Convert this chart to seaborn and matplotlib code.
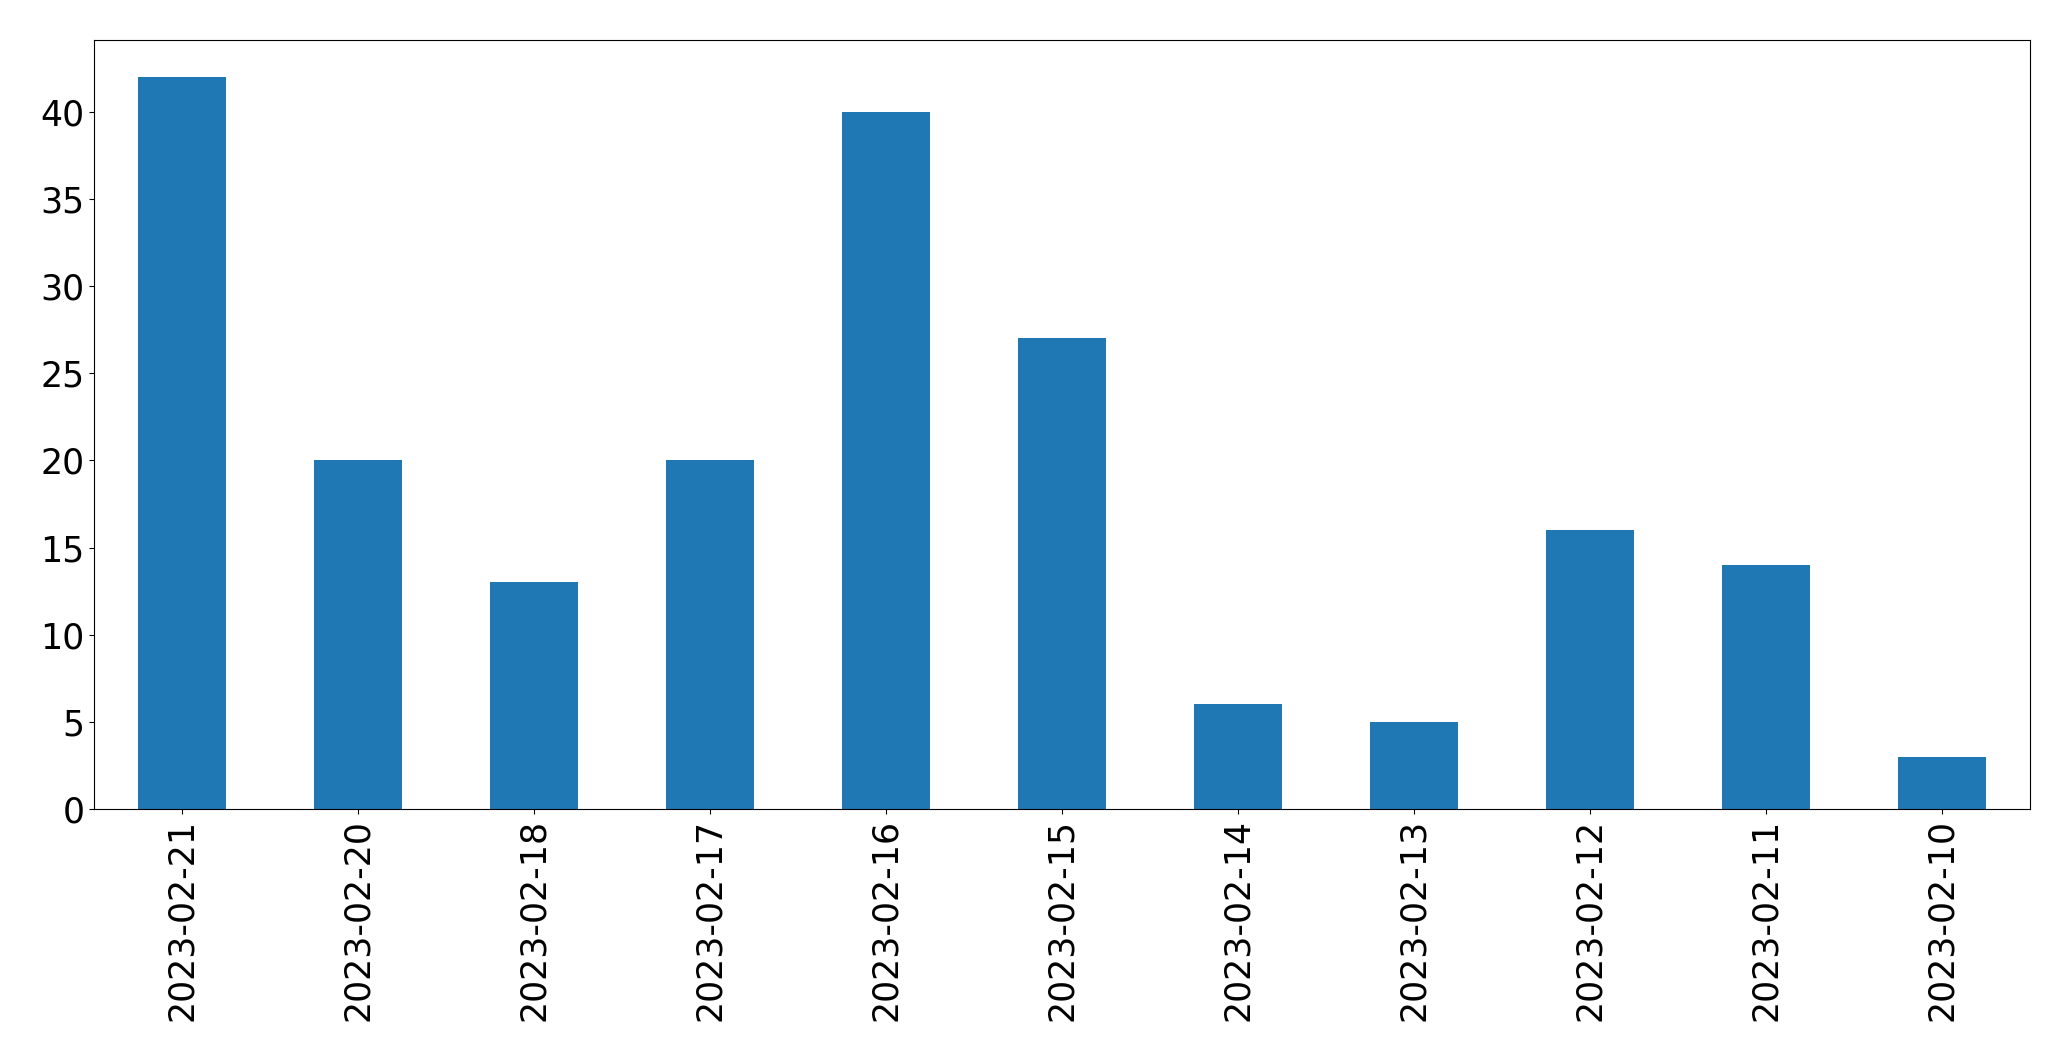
import matplotlib
matplotlib.use("Agg")
import matplotlib.pyplot as plt
import seaborn as sns
import pandas as pd

# counts per day, in the order shown
dates = ["2023-02-21", "2023-02-20", "2023-02-18", "2023-02-17", "2023-02-16",
         "2023-02-15", "2023-02-14", "2023-02-13", "2023-02-12", "2023-02-11",
         "2023-02-10"]
counts = [42, 20, 13, 20, 40, 27, 6, 5, 16, 14, 3]

df = pd.DataFrame({"date": dates, "count": counts})

fig = plt.figure(figsize=(20.71, 10.61), dpi=100)
ax = fig.add_axes([0.0455, 0.2375, 0.9345, 0.7245])

sns.barplot(data=df, x="date", y="count", order=dates, color="#1f77b4",
            saturation=1, width=0.5, ax=ax)

ax.set_xlim(-0.5, len(dates) - 0.5)
ax.set_ylim(0, max(counts) * 1.05)
ax.set_xlabel("")
ax.set_ylabel("")
ax.tick_params(axis="both", labelsize=25)
plt.setp(ax.get_xticklabels(), rotation=90)

fig.savefig("out.png", dpi=100)
